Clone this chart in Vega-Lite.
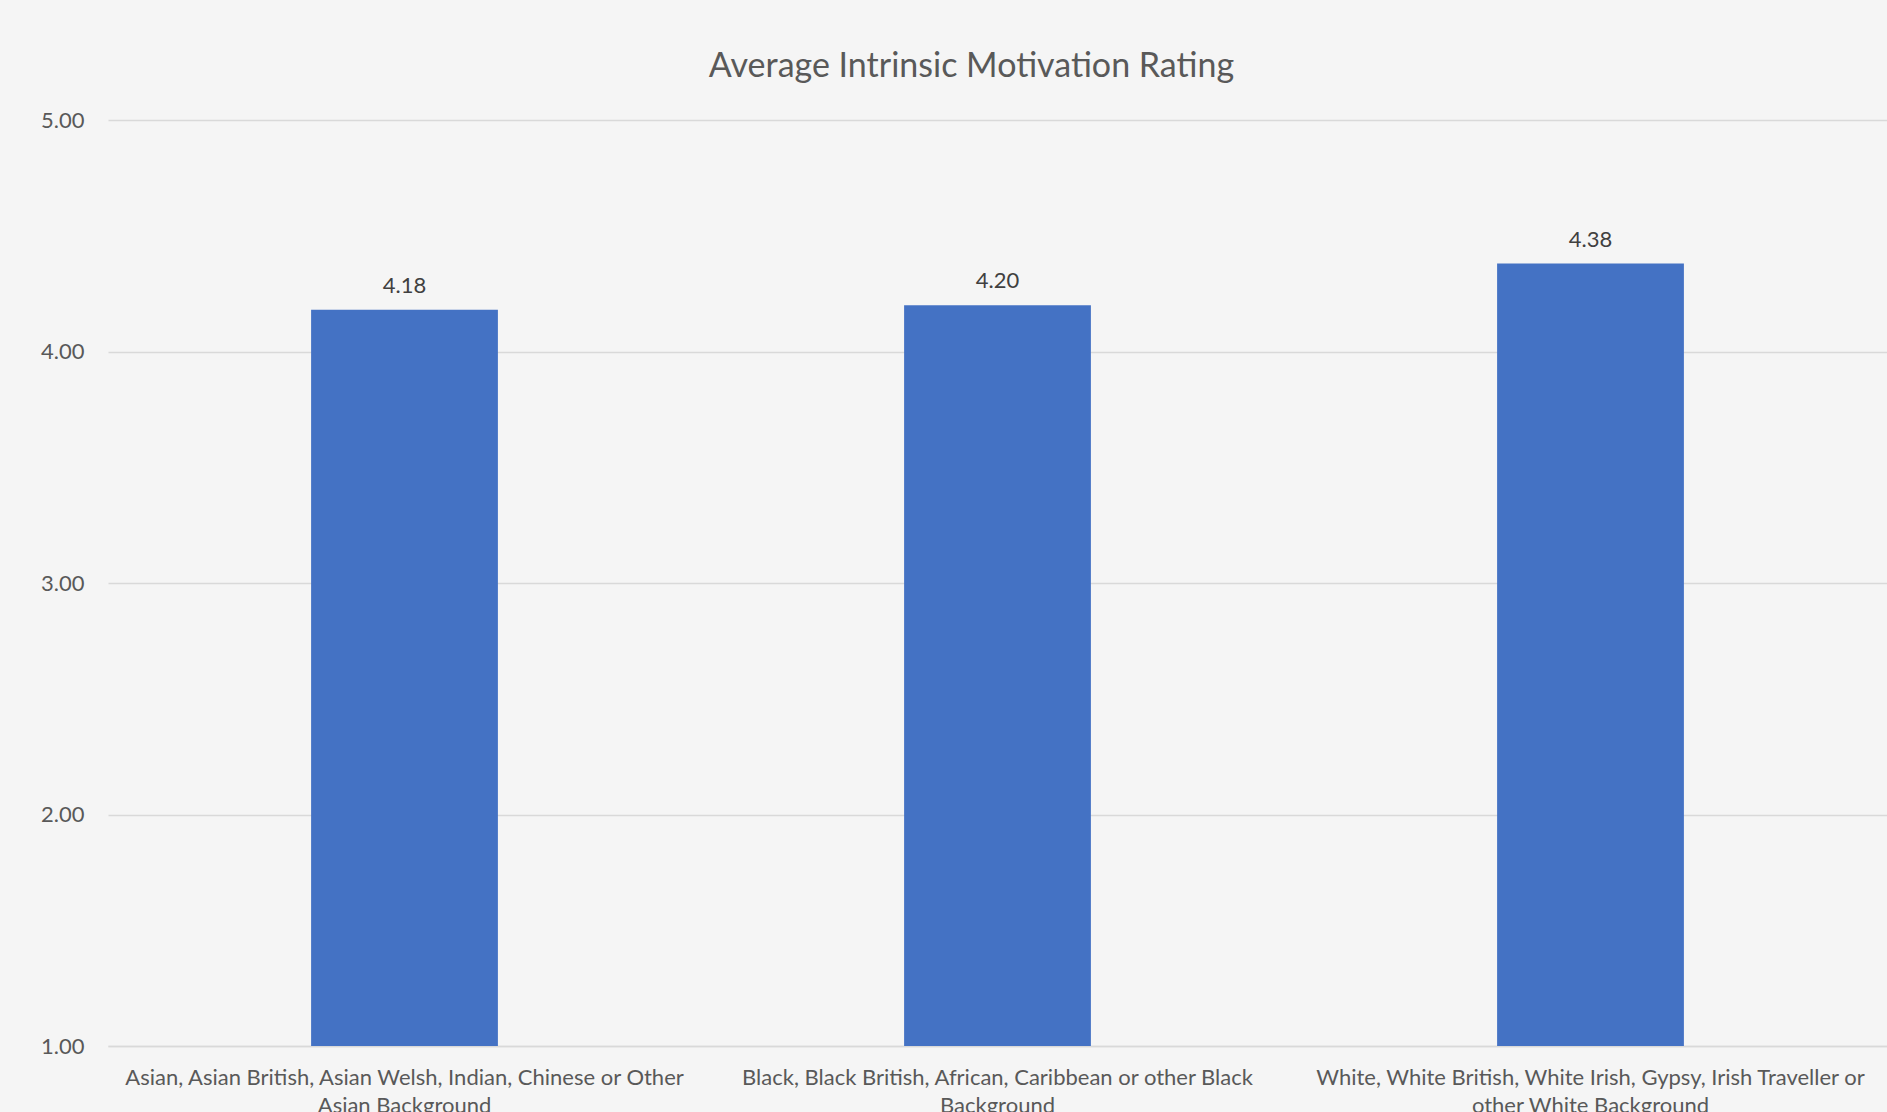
{
  "$schema": "https://vega.github.io/schema/vega-lite/v6.json",
  "autosize": {"type": "none"},
  "width": 1779,
  "height": 926,
  "padding": {"left": 108, "top": 120, "right": 0, "bottom": 66},
  "background": "#F5F5F5",
  "config": {"view": {"stroke": null}, "font": "Lato"},
  "title": {
    "text": "Average Intrinsic Motivation Rating",
    "fontSize": 34,
    "fontWeight": "normal",
    "color": "#595959",
    "font": "Lato",
    "anchor": "middle",
    "dx": -26,
    "offset": 25
  },
  "data": {
    "values": [
      {"group": "Asian, Asian British, Asian Welsh, Indian, Chinese or Other Asian Background", "rating": 4.18},
      {"group": "Black, Black British, African, Caribbean or other Black Background", "rating": 4.20},
      {"group": "White, White British, White Irish, Gypsy, Irish Traveller or other White Background", "rating": 4.38}
    ]
  },
  "encoding": {
    "x": {
      "field": "group",
      "type": "nominal",
      "sort": null,
      "scale": {"paddingInner": 0.685, "paddingOuter": 0.3425},
      "axis": {
        "title": null,
        "labelAngle": 0,
        "labelFontSize": 22,
        "labelColor": "#595959",
        "labelFont": "Lato",
        "labelPadding": 21,
        "labelLimit": 0,
        "labelLineHeight": 28,
        "ticks": false,
        "domainColor": "#D9D9D9",
        "domainWidth": 1.5,
        "labelExpr": "indexof(datum.label, 'Asian') == 0 ? ['Asian, Asian British, Asian Welsh, Indian, Chinese or Other', 'Asian Background'] : indexof(datum.label, 'Black') == 0 ? ['Black, Black British, African, Caribbean or other Black', 'Background'] : ['White, White British, White Irish, Gypsy, Irish Traveller or', 'other White Background']"
      }
    },
    "y": {
      "field": "rating",
      "type": "quantitative",
      "scale": {"domain": [1, 5], "zero": false, "nice": false},
      "axis": {
        "title": null,
        "values": [1, 2, 3, 4, 5],
        "format": ".2f",
        "labelFontSize": 22,
        "labelColor": "#595959",
        "labelFont": "Lato",
        "labelPadding": 24,
        "ticks": false,
        "domain": false,
        "gridColor": "#D9D9D9",
        "gridWidth": 1.5
      }
    }
  },
  "layer": [
    {
      "mark": {"type": "bar", "color": "#4472C4"},
      "encoding": {"y2": {"datum": 1}}
    },
    {
      "mark": {"type": "text", "baseline": "bottom", "dy": -12, "fontSize": 22, "color": "#404040", "font": "Lato"},
      "encoding": {"text": {"field": "rating", "type": "quantitative", "format": ".2f"}}
    }
  ]
}
